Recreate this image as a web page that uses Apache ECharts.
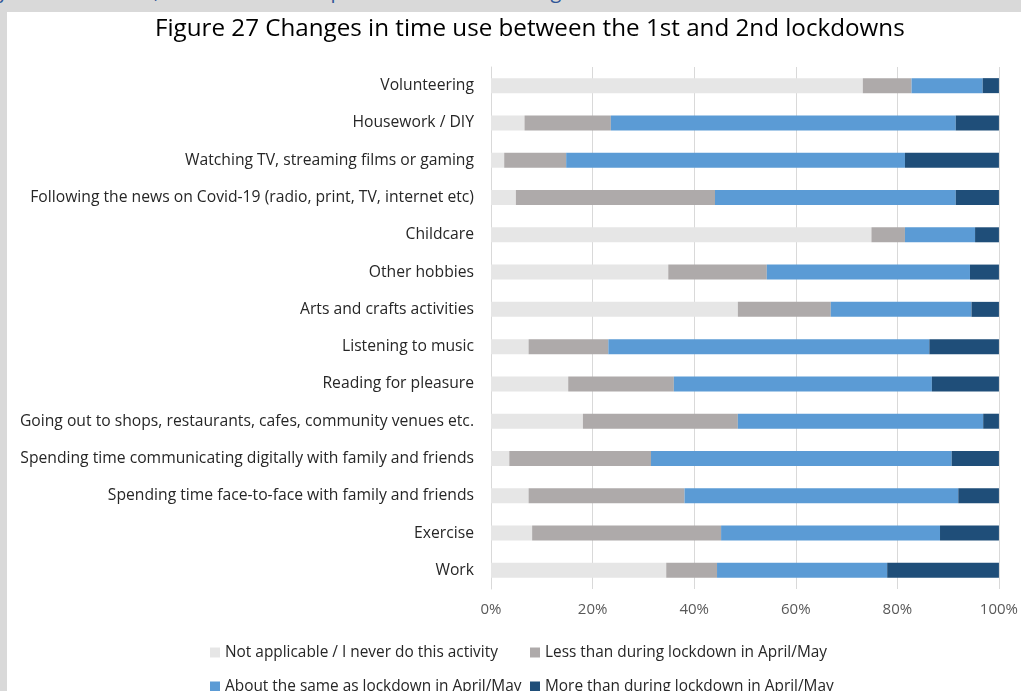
<!DOCTYPE html>
<html lang="en">
<head>
    <meta charset="UTF-8">
    <title>Figure 27 Changes in time use</title>
    <script src="https://cdn.jsdelivr.net/npm/echarts/dist/echarts.min.js"></script>
    <style>
        html, body {
            margin: 0;
            padding: 0;
            width: 1021px;
            height: 691px;
            background: #d9d9d9;
            overflow: hidden;
        }
        .strip {
            position: absolute;
            left: 0;
            top: 0;
            width: 1021px;
            height: 12px;
            overflow: hidden;
        }
        .strip span {
            position: absolute;
            left: -2px;
            top: -23px;
            font-family: "Open Sans", sans-serif;
            font-size: 20px;
            color: #2f5597;
            white-space: nowrap;
        }
        #chart {
            position: absolute;
            left: 7px;
            top: 12px;
            width: 1014px;
            height: 679px;
            background: #ffffff;
        }
    </style>
</head>
<body>
    <div class="strip"><span>y more than that, and time use compared to time use during the first lockdown was more</span></div>
    <div id="chart"></div>

    <script>
        // top to bottom, as in the picture
        const activities = [
            'Volunteering',
            'Housework / DIY',
            'Watching TV, streaming films or gaming',
            'Following the news on Covid-19 (radio, print, TV, internet etc)',
            'Childcare',
            'Other hobbies',
            'Arts and crafts activities',
            'Listening to music',
            'Reading for pleasure',
            'Going out to shops, restaurants, cafes, community venues etc.',
            'Spending time communicating digitally with family and friends',
            'Spending time face-to-face with family and friends',
            'Exercise',
            'Work'
        ];
        const notApplicable = [73.2, 6.6, 2.6, 4.9, 74.9, 34.9, 48.6, 7.4, 15.2, 18.1, 3.6, 7.4, 8.1, 34.5];
        const lessThan      = [9.6, 17.0, 12.2, 39.2, 6.6, 19.4, 18.3, 15.7, 20.8, 30.5, 27.9, 30.7, 37.2, 10.0];
        const aboutSame     = [14.0, 67.9, 66.7, 47.4, 13.8, 40.0, 27.7, 63.2, 50.8, 48.3, 59.2, 53.9, 43.1, 33.5];
        const moreThan      = [3.2, 8.5, 18.5, 8.5, 4.7, 5.7, 5.4, 13.7, 13.2, 3.1, 9.3, 8.0, 11.6, 22.0];
        const seriesNames = [
            'Not applicable / I never do this activity',
            'Less than during lockdown in April/May',
            'About the same as lockdown in April/May',
            'More than during lockdown in April/May'
        ];
        const colors = ['#e6e6e6', '#aeaaaa', '#5b9bd5', '#1f4e79'];
        const xTicks = [0, 20, 40, 60, 80, 100];

        const font = '"Open Sans", sans-serif';
        const chart = echarts.init(document.getElementById('chart'));

        function legendAt(name, left, top) {
            return {
                data: [name],
                left: left,
                top: top,
                itemWidth: 10,
                itemHeight: 10,
                itemGap: 0,
                icon: 'rect',
                textStyle: { fontFamily: font, fontSize: 15.4, color: '#262626' }
            };
        }

        const values = [notApplicable, lessThan, aboutSame, moreThan];

        chart.setOption({
            animation: false,
            color: colors,
            title: {
                text: 'Figure 27 Changes in time use between the 1st and 2nd lockdowns',
                left: 143,
                top: 0,
                textStyle: { fontFamily: font, fontSize: 24.2, fontWeight: 'normal', color: '#000000' }
            },
            legend: [
                legendAt(seriesNames[0], 198, 628),
                legendAt(seriesNames[1], 518, 628),
                legendAt(seriesNames[2], 198, 662),
                legendAt(seriesNames[3], 518, 662)
            ],
            grid: { left: 484, right: 19, top: 55, bottom: 102 },
            xAxis: {
                type: 'value',
                min: 0,
                max: 100,
                interval: 20,
                axisLabel: {
                    formatter: v => xTicks.includes(v) ? v + '%' : '',
                    fontFamily: font,
                    fontSize: 15,
                    color: '#595959',
                    margin: 13
                },
                axisLine: { show: false },
                axisTick: { show: false },
                splitLine: { lineStyle: { color: '#d9d9d9', width: 1 } }
            },
            yAxis: {
                type: 'category',
                inverse: true,
                data: activities,
                axisLine: { lineStyle: { color: '#d9d9d9' } },
                axisTick: { show: false },
                axisLabel: { fontFamily: font, fontSize: 15.7, color: '#262626', margin: 17 }
            },
            series: seriesNames.map((name, i) => ({
                name: name,
                type: 'bar',
                stack: 'total',
                barWidth: 15,
                data: values[i]
            }))
        });
    </script>
</body>
</html>
